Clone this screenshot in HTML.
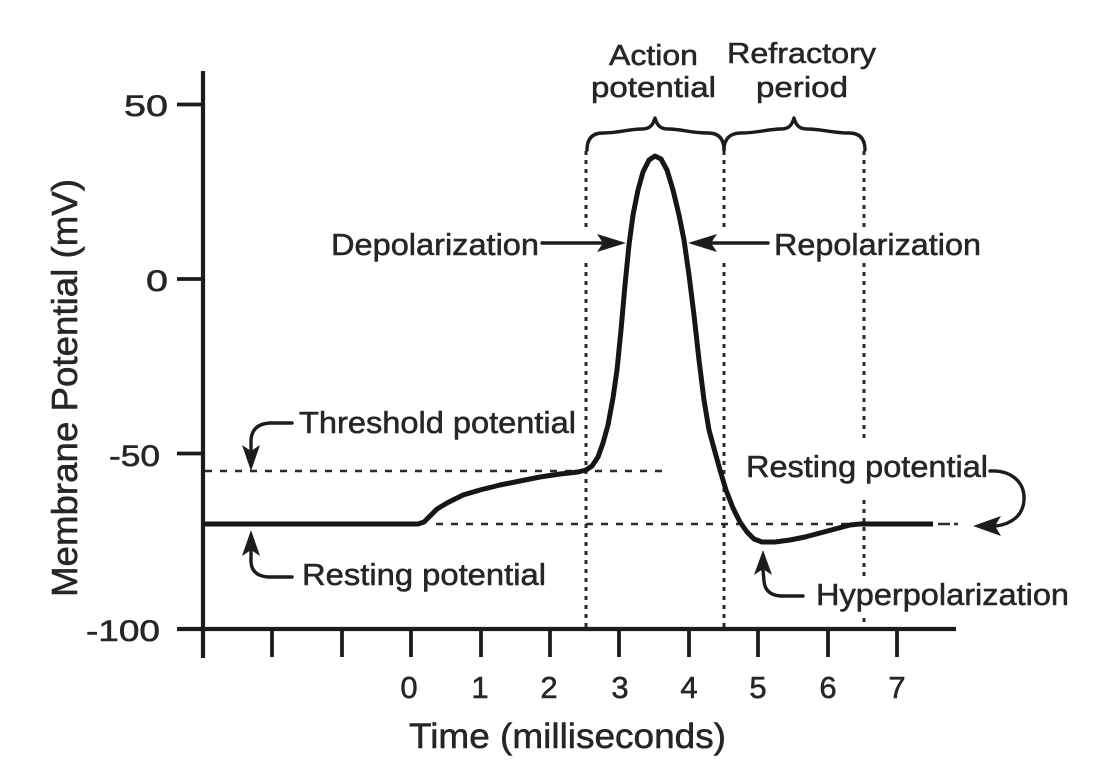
<!DOCTYPE html>
<html>
<head>
<meta charset="utf-8">
<style>
  html,body{margin:0;padding:0;background:#fff;}
  svg{display:block;}
  text{font-family:"Liberation Sans",Arial,sans-serif;fill:#262626;stroke:#262626;stroke-width:0.55px;}
</style>
</head>
<body>
<svg width="1094" height="778" viewBox="0 0 1094 778" xmlns="http://www.w3.org/2000/svg">
  <rect width="1094" height="778" fill="#fff"/>

  <!-- dashed horizontal reference lines -->
  <g stroke="#2a2a2a" stroke-width="2.5" fill="none" stroke-dasharray="7 8">
    <line x1="205" y1="471" x2="668" y2="471"/>
    <line x1="436" y1="524" x2="850" y2="524"/>
  </g>

  <!-- dotted vertical lines -->
  <g stroke="#2a2a2a" stroke-width="3" fill="none" stroke-dasharray="4 5">
    <line x1="586" y1="151" x2="586" y2="228"/>
    <line x1="586" y1="263" x2="586" y2="627"/>
    <line x1="724" y1="151" x2="724" y2="228"/>
    <line x1="724" y1="263" x2="724" y2="627"/>
    <line x1="864" y1="151" x2="864" y2="228"/>
    <line x1="864" y1="263" x2="864" y2="438"/>
    <line x1="864" y1="500" x2="864" y2="577"/>
    <line x1="864" y1="618" x2="864" y2="627"/>
  </g>

  <!-- axes -->
  <g stroke="#1c1c1c" fill="none">
    <line x1="203" y1="71" x2="203" y2="658" stroke-width="4.2"/>
    <line x1="177" y1="629" x2="956" y2="629" stroke-width="4.2"/>
    <g stroke-width="3.8">
      <line x1="177" y1="104.5" x2="203" y2="104.5"/>
      <line x1="177" y1="279" x2="203" y2="279"/>
      <line x1="177" y1="453.5" x2="203" y2="453.5"/>
      <line x1="272" y1="629" x2="272" y2="657"/>
      <line x1="342" y1="629" x2="342" y2="657"/>
      <line x1="411" y1="629" x2="411" y2="657"/>
      <line x1="481" y1="629" x2="481" y2="657"/>
      <line x1="550" y1="629" x2="550" y2="657"/>
      <line x1="619" y1="629" x2="619" y2="657"/>
      <line x1="689" y1="629" x2="689" y2="657"/>
      <line x1="758" y1="629" x2="758" y2="657"/>
      <line x1="828" y1="629" x2="828" y2="657"/>
      <line x1="897" y1="629" x2="897" y2="657"/>
    </g>
  </g>

  <!-- membrane potential curve -->
  <polyline fill="none" stroke="#161616" stroke-width="5" stroke-linejoin="round" stroke-linecap="butt"
    points="203,524 418,524 424,522 430,516 437,509 447,503 463,495 480,490 500,485 520,481 540,477 560,474 578,472 586,470 592,466 598,457 603,443 608,425 613,398 617,370 621,330 625,285 629,245 633,215 638,190 643,172 649,160 655,156 661,159 667,170 673,190 679,215 684,240 689,275 694,315 699,360 704,400 709,430 715,452 720,470 726,490 733,508 740,522 747,532 754,539 762,542 775,542 790,540 805,537 820,533 835,529 850,525 860,524 933,524"/>
  <g stroke="#2a2a2a" stroke-width="2.5">
    <line x1="938" y1="524" x2="950" y2="524"/>
    <line x1="954" y1="524" x2="958" y2="524"/>
  </g>

  <!-- braces -->
  <g fill="none" stroke="#1c1c1c" stroke-width="3.4" stroke-linecap="round" stroke-linejoin="round">
    <path d="M587,150 C587,139 592,133 603,133 C620,133 628,129 642,129 C650,129 653,125 655,118 C657,125 660,129 668,129 C682,129 690,133 708,133 C719,133 724,139 724,150"/>
    <path d="M724,150 C724,139 730,133 741,133 C758,133 768,129 781,129 C789,129 792,125 794,118 C796,125 799,129 807,129 C822,129 832,133 849,133 C860,133 865,139 865,150"/>
  </g>

  <!-- arrows -->
  <g stroke="#1c1c1c" stroke-width="3.4" fill="none" stroke-linecap="round">
    <line x1="542" y1="243" x2="606" y2="243"/>
    <line x1="708" y1="243" x2="768" y2="243"/>
    <path d="M292,423 L270,423 Q252,424 251,440 L251,452"/>
    <path d="M292,577 L268,577 Q252,576 251,562 L251,550"/>
    <path d="M803,596 L781,596 Q765,595 764,581 L763,570"/>
    <path d="M990,471 C1010,470 1025,481 1024,500 C1023,516 1011,524 996,526"/>
  </g>
  <g fill="#1c1c1c">
    <polygon points="626,243 597,234 603,243 597,252"/>
    <polygon points="688,243 717,234 711,243 717,252"/>
    <polygon points="251,471 242,445 251,451 260,445"/>
    <polygon points="251,530 242,556 251,550 260,556"/>
    <polygon points="763,550 754,575 763,569 772,575"/>
    <polygon points="973,526 1001,516 995,526 1001,536"/>
  </g>

  <!-- y tick labels -->
  <g font-size="30">
    <text x="124" y="116" textLength="44" lengthAdjust="spacingAndGlyphs">50</text>
    <text x="146" y="291" textLength="22" lengthAdjust="spacingAndGlyphs">0</text>
    <text x="109" y="466" textLength="51" lengthAdjust="spacingAndGlyphs">-50</text>
    <text x="86" y="641" textLength="74" lengthAdjust="spacingAndGlyphs">-100</text>
  </g>

  <!-- x tick labels -->
  <g font-size="31" text-anchor="middle">
    <text x="409" y="698">0</text>
    <text x="480" y="698">1</text>
    <text x="549" y="698">2</text>
    <text x="620" y="698">3</text>
    <text x="689" y="698">4</text>
    <text x="758" y="698">5</text>
    <text x="828" y="698">6</text>
    <text x="897" y="698">7</text>
  </g>

  <!-- axis titles -->
  <text x="409" y="748" font-size="35" textLength="317" lengthAdjust="spacingAndGlyphs">Time (milliseconds)</text>
  <text transform="translate(77,597) rotate(-90)" x="0" y="0" font-size="36" textLength="418" lengthAdjust="spacingAndGlyphs">Membrane Potential (mV)</text>

  <!-- top labels -->
  <g font-size="29">
    <text x="609" y="65" textLength="89" lengthAdjust="spacingAndGlyphs">Action</text>
    <text x="591" y="97" textLength="125" lengthAdjust="spacingAndGlyphs">potential</text>
    <text x="727" y="63" textLength="149" lengthAdjust="spacingAndGlyphs">Refractory</text>
    <text x="756" y="97" textLength="92" lengthAdjust="spacingAndGlyphs">period</text>
  </g>

  <!-- annotations -->
  <g font-size="31">
    <text x="331" y="255" textLength="208" lengthAdjust="spacingAndGlyphs">Depolarization</text>
    <text x="774" y="255" textLength="207" lengthAdjust="spacingAndGlyphs">Repolarization</text>
    <text x="299" y="433" textLength="277" lengthAdjust="spacingAndGlyphs">Threshold potential</text>
    <text x="302" y="585" textLength="244" lengthAdjust="spacingAndGlyphs">Resting potential</text>
    <text x="746" y="477" textLength="242" lengthAdjust="spacingAndGlyphs">Resting potential</text>
    <text x="816" y="605" textLength="253" lengthAdjust="spacingAndGlyphs">Hyperpolarization</text>
  </g>
</svg>
</body>
</html>
